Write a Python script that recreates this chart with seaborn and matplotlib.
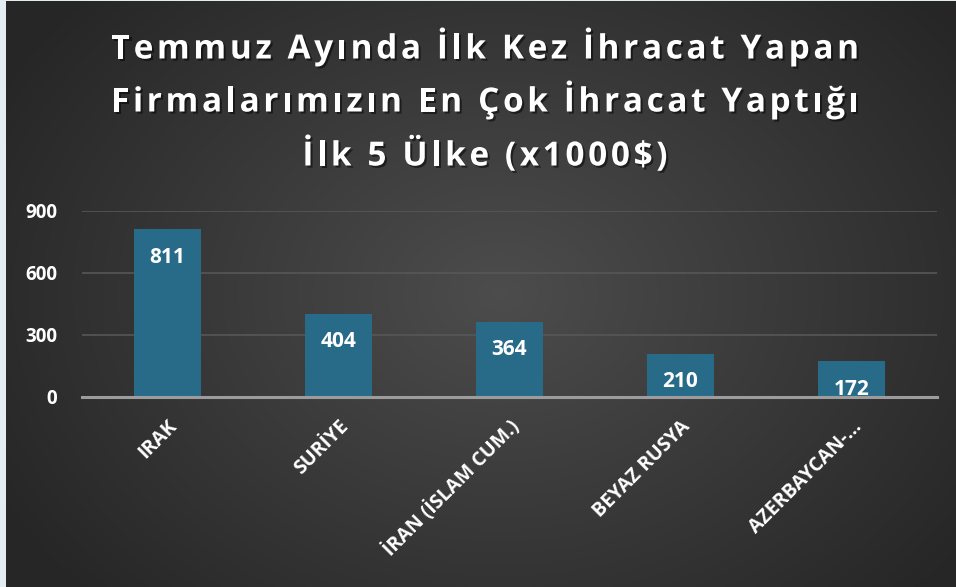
import numpy as np
import pandas as pd
import matplotlib
matplotlib.use("Agg")
import matplotlib.pyplot as plt
import matplotlib.patheffects as pe
import matplotlib.transforms as mtrans
import seaborn as sns

countries = ["IRAK", "SURİYE", "İRAN (İSLAM CUM.)", "BEYAZ RUSYA", "AZERBAYCAN-..."]
values = [811, 404, 364, 210, 172]
yticks = [0, 300, 600, 900]
title_lines = ["Temmuz Ayında İlk Kez İhracat Yapan",
               "Firmalarımızın En Çok İhracat Yaptığı",
               "İlk 5 Ülke (x1000$)"]

sns.set_style("dark")
plt.rcParams['font.family'] = ['Open Sans', 'DejaVu Sans']

W, H = 956, 587
fig = plt.figure(figsize=(W / 100, H / 100), dpi=100)
fig.patch.set_facecolor("#e4eef2")

# background radial gradient
bg = fig.add_axes([6 / W, 0, 1 - 6 / W, 1 - 1 / H])
bg.set_axis_off()
yy, xx = np.mgrid[0:H, 0:W - 6]
cx, cy = 0.52 * (W - 6), 0.50 * H
r = np.sqrt(((xx - cx) / (W * 0.6)) ** 2 + ((yy - cy) / (H * 0.75)) ** 2)
r = np.clip(r, 0, 1)
lum = 0.30 - 0.15 * r
img = np.dstack([lum, lum, lum])
bg.imshow(img, aspect="auto", extent=[0, 1, 0, 1], origin="upper")

ax = fig.add_axes([82 / W, 190 / H, (937 - 82) / W, (376 - 190) / H])
ax.patch.set_alpha(0)
df = pd.DataFrame({"country": countries, "value": values})
sns.barplot(data=df, x="country", y="value", color="#276b89", width=0.39,
            saturation=1, ax=ax, zorder=3, edgecolor="none", linewidth=0)
ax.set_xlim(-0.5, 4.5)
ax.set_ylim(0, 900)
ax.set_yticks(yticks)
ax.set_yticklabels([str(v) for v in yticks], color="white", fontsize=13.5, fontweight="bold")
ax.set_xticks(range(len(countries)))
ax.set_xticklabels(countries, rotation=45, ha="right", rotation_mode="anchor",
                   color="white", fontsize=14, fontweight="bold")
shift = mtrans.ScaledTranslation(-5 / 100, 0, fig.dpi_scale_trans)
for lbl in ax.get_xticklabels():
    lbl.set_transform(lbl.get_transform() + shift)
ax.tick_params(axis="both", length=0)
ax.tick_params(axis="y", pad=18)
ax.tick_params(axis="x", pad=14)
ax.set_xlabel("")
ax.set_ylabel("")
ax.grid(axis="y", color="#575757", linewidth=1.2, zorder=0)
ax.grid(axis="x", visible=False)
for s in ["top", "right", "left"]:
    ax.spines[s].set_visible(False)
ax.spines["bottom"].set_color("#9c9c9c")
ax.spines["bottom"].set_linewidth(2.2)
ax.spines["bottom"].set_zorder(4)

for i, v in enumerate(values):
    ax.annotate(str(v), (i, v), xytext=(0, -20), textcoords="offset points",
                ha="center", va="center", color="white", fontsize=15,
                fontweight="bold", zorder=5)

# title with letter spacing
fig.canvas.draw()
renderer = fig.canvas.get_renderer()
shadow = [pe.withSimplePatchShadow(offset=(1.5, -1.5), shadow_rgbFace="black", alpha=0.5)]
fs = 24
track = 3.6  # px extra between characters
centers_y = [50, 103, 157]
cx_title = 485
for line, ypx in zip(title_lines, centers_y):
    widths = []
    for ch in line:
        t = fig.text(0, 0, ch if ch != " " else "\u00a0", fontsize=fs, fontweight="bold")
        if ch == " ":
            w = renderer.get_text_width_height_descent(" ", t.get_fontproperties(), ismath=False)[0]
        else:
            w = t.get_window_extent(renderer).width
        t.remove()
        widths.append(w)
    total = sum(widths) + track * (len(line) - 1)
    x = cx_title - total / 2
    for ch, w in zip(line, widths):
        if ch != " ":
            fig.text(x / W, 1 - ypx / H, ch, ha="left", va="center", color="white",
                     fontsize=fs, fontweight="bold", path_effects=shadow)
        x += w + track

fig.savefig("out.png", dpi=100)
